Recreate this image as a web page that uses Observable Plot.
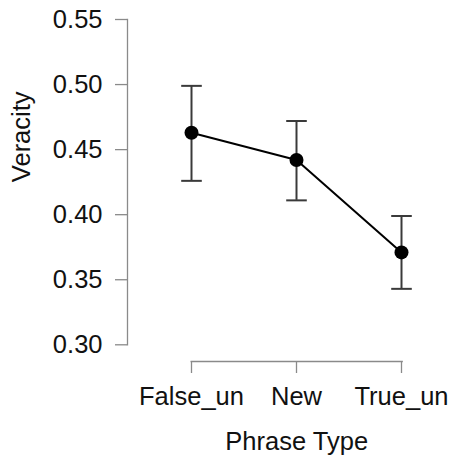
<!DOCTYPE html>
<html>
<head>
<meta charset="utf-8">
<script src="https://cdn.jsdelivr.net/npm/d3@7"></script>
<script src="https://cdn.jsdelivr.net/npm/@observablehq/plot@0.6"></script>
<style>
  html, body { margin: 0; padding: 0; background: #fff; }
</style>
</head>
<body>
<div id="chart"></div>
<script>
const categories = ["False_un", "New", "True_un"];
const means = [0.463, 0.442, 0.371];
const upper = [0.499, 0.472, 0.399];
const lower = [0.426, 0.411, 0.343];
const yTicks = [0.30, 0.35, 0.40, 0.45, 0.50, 0.55];
const xTitle = "Phrase Type";
const yTitle = "Veracity";

const data = categories.map((c, i) => ({type: c, mean: means[i], hi: upper[i], lo: lower[i]}));

const capSymbol = {
  draw(context, size) {
    const w = Math.sqrt(size / Math.PI);
    context.moveTo(-w, 0);
    context.lineTo(w, 0);
  }
};

const axisGray = "#8a8a8a";
const barColor = "#3a3a3a";
const fs = 25.5;

const chart = Plot.plot({
  width: 451,
  height: 457,
  marginLeft: 190.7,
  marginRight: 49.3,
  marginTop: 19,
  marginBottom: 112.7,
  style: {fontFamily: "'Liberation Sans', Arial, sans-serif", fontSize: fs + "px", background: "#fff", color: "black"},
  x: {type: "point", domain: categories, padding: 0},
  y: {domain: [0.30, 0.55]},
  marks: [
    Plot.frame({anchor: "left", dx: -63.7, stroke: axisGray, strokeWidth: 1.3}),
    Plot.frame({anchor: "bottom", dy: 16.7, stroke: axisGray, strokeWidth: 1.3}),
    Plot.axisY(yTicks, {dx: -63.7, tickSize: 12, tickPadding: 13, tickFormat: d3.format(".2f"), fontSize: fs, stroke: axisGray, strokeWidth: 1.3, fill: "#111", label: null}),
    Plot.axisX({dy: 16.7, tickSize: 12, tickPadding: 13, fontSize: fs, stroke: axisGray, strokeWidth: 1.3, fill: "#111", label: null}),
    Plot.text([yTitle], {frameAnchor: "left", rotate: -90, dx: -161.7, lineAnchor: "bottom", fontSize: fs, fill: "#111"}),
    Plot.text([xTitle], {frameAnchor: "bottom", dy: 105, lineAnchor: "bottom", fontSize: fs, fill: "#111"}),
    Plot.ruleX(data, {x: "type", y1: "lo", y2: "hi", stroke: barColor, strokeWidth: 2}),
    Plot.dot(data, {x: "type", y: "hi", symbol: capSymbol, r: 10.3, stroke: barColor, strokeWidth: 2, fill: "none"}),
    Plot.dot(data, {x: "type", y: "lo", symbol: capSymbol, r: 10.3, stroke: barColor, strokeWidth: 2, fill: "none"}),
    Plot.line(data, {x: "type", y: "mean", stroke: "black", strokeWidth: 2}),
    Plot.dot(data, {x: "type", y: "mean", r: 7, fill: "black", stroke: "none"})
  ]
});

document.getElementById("chart").appendChild(chart);
</script>
</body>
</html>
